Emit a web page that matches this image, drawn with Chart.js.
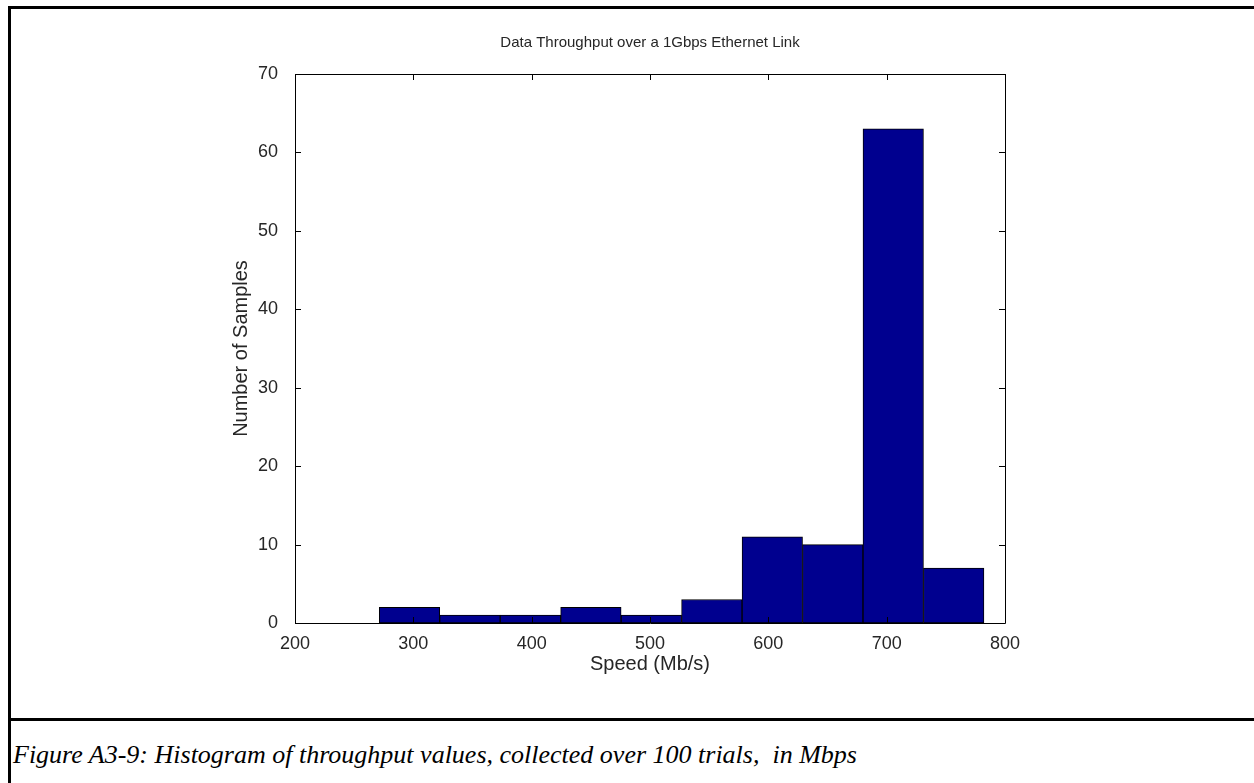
<!DOCTYPE html>
<html>
<head>
<meta charset="utf-8">
<script src="https://cdn.jsdelivr.net/npm/chart.js@4"></script>
<style>
  html, body { margin: 0; padding: 0; background: #fff; }
  body { width: 1254px; height: 783px; position: relative; overflow: hidden; }
  #chart { position: absolute; left: 0; top: 0; }
  .line { position: absolute; background: #000; }
  #caption {
    position: absolute; left: 13px; top: 740px;
    font-family: "Liberation Serif", "Times New Roman", serif;
    font-style: italic; font-size: 26px; color: #000; white-space: pre;
  }
</style>
</head>
<body>
<canvas id="chart" width="1254" height="715"></canvas>
<div class="line" style="left:8px; top:6px; width:1246px; height:3px;"></div>
<div class="line" style="left:8px; top:6px; width:3px; height:777px;"></div>
<div class="line" style="left:8px; top:718px; width:1246px; height:3px;"></div>
<div id="caption">Figure A3-9: Histogram of throughput values, collected over 100 trials,  in Mbps</div>

<script>
// histogram bins (Mb/s)
const binEdges = [271.2, 322.3, 373.4, 424.5, 475.6, 526.7, 577.8, 628.9, 680.0, 731.1, 782.2];
const counts = [2, 1, 1, 2, 1, 3, 11, 10, 63, 7];
const xTicks = [200, 300, 400, 500, 600, 700, 800];
const yTicks = [0, 10, 20, 30, 40, 50, 60, 70];

const points = counts.map((c, i) => ({ x: (binEdges[i] + binEdges[i + 1]) / 2, y: c }));

const textColor = "#262626";
const font = { family: "'Liberation Sans', Arial, sans-serif", size: 18 };
const labelFont = { family: "'Liberation Sans', Arial, sans-serif", size: 20 };

// MATLAB style box with ticks pointing inward
const boxTicks = {
  id: "boxTicks",
  afterDatasetsDraw(chart) {
    const { ctx, chartArea: a, scales } = chart;
    const len = 6;
    ctx.save();
    ctx.strokeStyle = "#000";
    ctx.lineWidth = 1;
    ctx.beginPath();
    ctx.rect(Math.round(a.left) + 0.5, Math.round(a.top) + 0.5, Math.round(a.right - a.left), Math.round(a.bottom - a.top));
    xTicks.forEach((v) => {
      const px = Math.round(scales.x.getPixelForValue(v)) + 0.5;
      ctx.moveTo(px, a.bottom);
      ctx.lineTo(px, a.bottom - len);
      ctx.moveTo(px, a.top);
      ctx.lineTo(px, a.top + len);
    });
    yTicks.forEach((v) => {
      const py = Math.round(scales.y.getPixelForValue(v)) + 0.5;
      ctx.moveTo(a.left, py);
      ctx.lineTo(a.left + len, py);
      ctx.moveTo(a.right, py);
      ctx.lineTo(a.right - len, py);
    });
    ctx.stroke();
    ctx.restore();
  },
};

new Chart(document.getElementById("chart"), {
  type: "bar",
  data: {
    datasets: [
      {
        data: points,
        xAxisID: "x",
        backgroundColor: "rgb(0, 0, 143)",
        borderColor: "#000",
        borderWidth: 1,
        borderSkipped: false,
        barPercentage: 1,
        categoryPercentage: 1,
      },
    ],
  },
  options: {
    responsive: false,
    animation: false,
    layout: { padding: { left: 0, right: 249, top: 0, bottom: 0 } },
    plugins: {
      legend: { display: false },
      tooltip: { enabled: false },
    },
    scales: {
      x: {
        type: "linear",
        min: 200,
        max: 800,
        offset: false,
        grid: { display: false },
        border: { display: false },
        afterBuildTicks: (s) => { s.ticks = xTicks.map((v) => ({ value: v })); },
        ticks: { color: textColor, font: font, padding: 2, maxRotation: 0 },
        title: {
          display: true,
          text: "Speed (Mb/s)",
          color: textColor,
          font: labelFont,
          padding: { top: 0, bottom: 39 },
        },
        afterFit: (s) => { s.height = 92; },
      },
      // top axis only carries the chart title, centred over the plot box
      x2: {
        type: "linear",
        position: "top",
        min: 200,
        max: 800,
        offset: false,
        grid: { display: false },
        border: { display: false },
        ticks: { display: false },
        title: {
          display: true,
          text: "Data Throughput over a 1Gbps Ethernet Link",
          color: textColor,
          font: { family: "'Liberation Sans Narrow', 'Liberation Sans', Arial, sans-serif", size: 15 },
          padding: { top: 34, bottom: 0 },
        },
        afterFit: (s) => { s.height = 74; },
      },
      y: {
        min: 0,
        max: 70,
        grid: { display: false },
        border: { display: false },
        afterBuildTicks: (s) => { s.ticks = yTicks.map((v) => ({ value: v })); },
        ticks: { color: textColor, font: font, padding: 9 },
        title: {
          display: true,
          text: "Number of Samples",
          color: textColor,
          font: labelFont,
          padding: { top: 229, bottom: 0 },
        },
        afterFit: (s) => { s.width = 295; },
      },
    },
  },
  plugins: [boxTicks],
});
</script>
</body>
</html>
